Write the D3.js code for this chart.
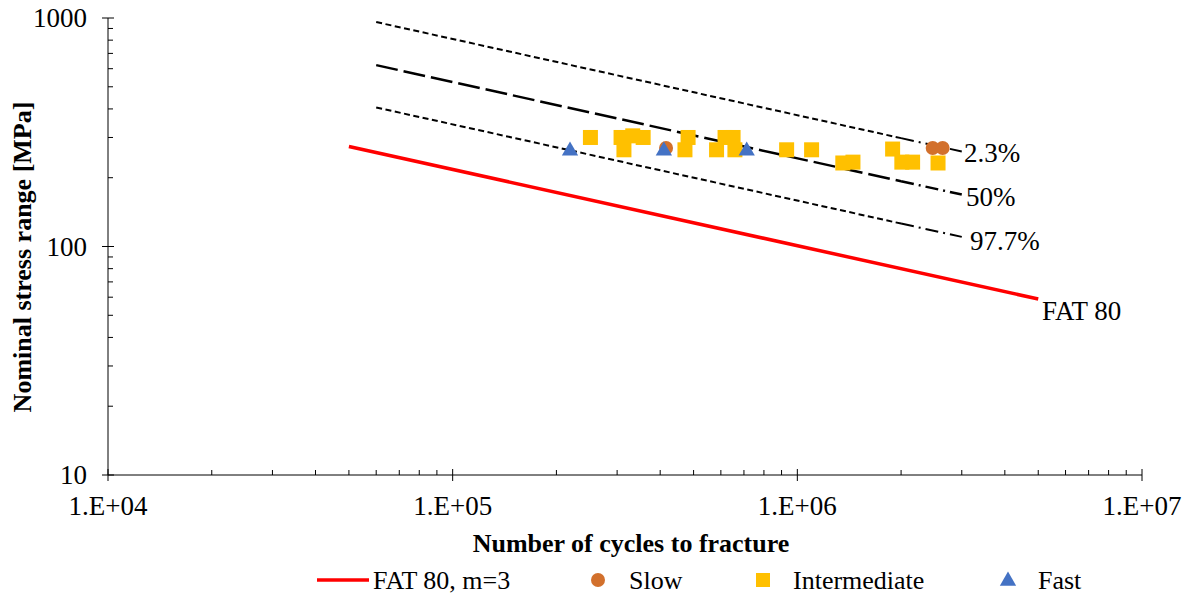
<!DOCTYPE html>
<html>
<head>
<meta charset="utf-8">
<script src="https://cdn.jsdelivr.net/npm/d3@7"></script>
<style>
  body { margin: 0; background: #fff; }
  svg text { font-family: "Liberation Serif", "Times New Roman", serif; fill: #000; }
</style>
</head>
<body>
<div id="chart"></div>
<script>
// Test data, cycles and stress range per loading rate
const slowN = [416000, 2470000, 2640000];
const slowS = [270, 270, 270];
const interN = [251000, 308000, 333000, 357000, 314000, 482000, 472000, 583000, 617000, 651000,
                659000, 931000, 1100000, 1355000, 1450000, 1890000, 2010000, 2160000, 2560000];
const interS = [300, 300, 305, 300, 265, 300, 265, 265, 300, 300,
                265, 265, 265, 232, 234, 267, 234, 234, 232];
const fastN = [219000, 410000, 713000];
const fastS = [265, 265, 265];

// S-N lines, given by their two end points
const fatN = [50000, 5000000];
const fatS = [274, 58.9];
const bandN = [60000, 2000000, 3000000];   // start, start of dash-dot tail, end
const band23S = [960, 298, 260.5];
const band50S = [622, 193, 168.8];
const band977S = [406, 126, 110.2];

const xTicks = [1e4, 1e5, 1e6, 1e7];
const yTicks = [10, 100, 1000];

const width = 1184, height = 594;
const svg = d3.select('#chart').append('svg')
    .attr('width', width)
    .attr('height', height);

const x = d3.scaleLog().domain([1e4, 1e7]).range([108, 1142]);
const y = d3.scaleLog().domain([10, 1000]).range([475, 18]);

// minor ticks
const xMinor = [];
for (let d = 1e4; d < 1e7; d *= 10) for (let k = 2; k <= 9; k++) xMinor.push(d * k);
const yMinor = [];
for (let d = 10; d < 1000; d *= 10) for (let k = 2; k <= 9; k++) yMinor.push(d * k);

const axes = svg.append('g').attr('stroke', '#000').attr('stroke-width', 1);
axes.append('line').attr('x1', x(1e4)).attr('x2', x(1e7)).attr('y1', y(10)).attr('y2', y(10));
axes.append('line').attr('x1', x(1e4)).attr('x2', x(1e4)).attr('y1', y(10)).attr('y2', y(1000));

axes.selectAll('.xmin').data(xMinor).enter().append('line')
    .attr('x1', d => x(d)).attr('x2', d => x(d))
    .attr('y1', y(10)).attr('y2', y(10) - 5);
axes.selectAll('.xmaj').data(xTicks).enter().append('line')
    .attr('x1', d => x(d)).attr('x2', d => x(d))
    .attr('y1', y(10) - 6).attr('y2', y(10) + 6);
axes.selectAll('.ymin').data(yMinor).enter().append('line')
    .attr('x1', x(1e4)).attr('x2', x(1e4) + 5)
    .attr('y1', d => y(d)).attr('y2', d => y(d));
axes.selectAll('.ymaj').data(yTicks).enter().append('line')
    .attr('x1', x(1e4) - 6).attr('x2', x(1e4) + 6)
    .attr('y1', d => y(d)).attr('y2', d => y(d));

svg.selectAll('.xlab').data(xTicks).enter().append('text')
    .attr('x', d => x(d)).attr('y', y(10) + 40)
    .attr('text-anchor', 'middle').attr('font-size', 27)
    .text(d => '1.E+' + String(Math.round(Math.log10(d))).padStart(2, '0'));
svg.selectAll('.ylab').data(yTicks).enter().append('text')
    .attr('x', x(1e4) - 21).attr('y', d => y(d) + 9)
    .attr('text-anchor', 'end').attr('font-size', 27)
    .text(d => d);

svg.append('text')
    .attr('x', 631).attr('y', 552)
    .attr('text-anchor', 'middle').attr('font-size', 26).attr('font-weight', 'bold')
    .text('Number of cycles to fracture');
svg.append('text')
    .attr('transform', 'translate(31,257) rotate(-90)')
    .attr('text-anchor', 'middle').attr('font-size', 26).attr('font-weight', 'bold')
    .text('Nominal stress range [MPa]');

// lines
const line = d3.line().x(d => x(d[0])).y(d => y(d[1]));
const zipPts = (ns, ss) => ns.map((n, i) => [n, ss[i]]);

svg.append('path')
    .attr('d', line(zipPts(fatN, fatS)))
    .attr('fill', 'none').attr('stroke', '#ff0000').attr('stroke-width', 3.5);

function band(ss, dash, sw) {
    const pts = zipPts(bandN, ss);
    svg.append('path').attr('d', line(pts.slice(0, 2)))
        .attr('fill', 'none').attr('stroke', '#000').attr('stroke-width', sw)
        .attr('stroke-dasharray', dash);
    svg.append('path').attr('d', line(pts.slice(1)))
        .attr('fill', 'none').attr('stroke', '#000').attr('stroke-width', sw)
        .attr('stroke-dasharray', '13,5,2,5');
}
band(band23S, '6,3.5', 2);
band(band50S, '22,6', 2.5);
band(band977S, '6,3.5', 2);

// data markers
const g = svg.append('g');
g.selectAll('.inter').data(zipPts(interN, interS)).enter().append('rect')
    .attr('x', d => x(d[0]) - 7.5).attr('y', d => y(d[1]) - 7.5)
    .attr('width', 15).attr('height', 15).attr('fill', '#ffc000');
g.selectAll('.slow').data(zipPts(slowN, slowS)).enter().append('circle')
    .attr('cx', d => x(d[0])).attr('cy', d => y(d[1])).attr('r', 7)
    .attr('fill', '#d2702c');
const tri = d3.symbol().type(d3.symbolTriangle).size(115);
g.selectAll('.fast').data(zipPts(fastN, fastS)).enter().append('path')
    .attr('d', tri)
    .attr('transform', d => `translate(${x(d[0])},${y(d[1]) + 1})`)
    .attr('fill', '#4472c4');

// line labels
const labels = [['2.3%', 964, 162], ['50%', 966, 206], ['97.7%', 970, 250], ['FAT 80', 1042, 320]];
svg.selectAll('.lbl').data(labels).enter().append('text')
    .attr('x', d => d[1]).attr('y', d => d[2])
    .attr('font-size', 27)
    .text(d => d[0]);

// legend
const leg = svg.append('g').attr('font-size', 26);
leg.append('line').attr('x1', 317).attr('x2', 369).attr('y1', 580).attr('y2', 580)
    .attr('stroke', '#ff0000').attr('stroke-width', 3.5);
leg.append('text').attr('x', 373).attr('y', 589).text('FAT 80, m=3');
leg.append('circle').attr('cx', 598).attr('cy', 580).attr('r', 7).attr('fill', '#d2702c');
leg.append('text').attr('x', 629).attr('y', 589).text('Slow');
leg.append('rect').attr('x', 756).attr('y', 573).attr('width', 14).attr('height', 14).attr('fill', '#ffc000');
leg.append('text').attr('x', 793).attr('y', 589).text('Intermediate');
leg.append('path').attr('d', tri).attr('transform', 'translate(1008,581)').attr('fill', '#4472c4');
leg.append('text').attr('x', 1038).attr('y', 589).text('Fast');
</script>
</body>
</html>
